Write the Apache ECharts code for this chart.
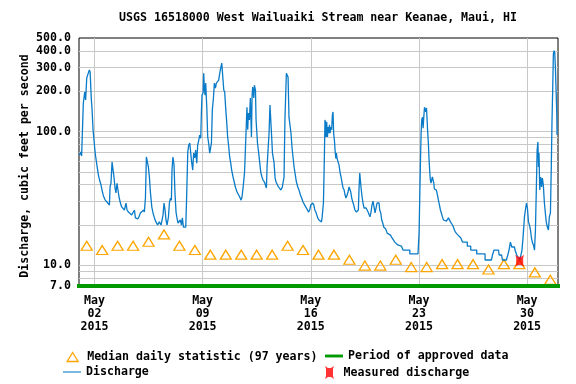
<!DOCTYPE html>
<html><head><meta charset="utf-8">
<script src="https://cdn.jsdelivr.net/npm/echarts@6/dist/echarts.min.js"></script>
<style>html,body{margin:0;padding:0;background:#fff}#c{width:576px;height:384px}</style>
</head><body><div id="c"></div>
<script>
const titleText = 'USGS 16518000 West Wailuaiki Stream near Keanae, Maui, HI';
const yAxisTitle = 'Discharge, cubic feet per second';
const xTickDays = [2, 9, 16, 23, 30];
const xTickMonth = 'May';
const xTickYear = '2015';
const yLabelValues = [7, 10, 100, 200, 300, 400, 500];
const yGridValues = [8, 9, 10, 20, 30, 40, 50, 60, 70, 80, 90, 100, 200, 300, 400];
const xRange = [1, 32];
const yRange = [7, 500];

// Discharge (day of May 2015, fractional) and cfs
const dischargeDay = [1.03,1.11,1.17,1.24,1.28,1.37,1.43,1.50,1.56,1.67,1.72,1.76,1.80,1.84,1.91,2.00,2.06,2.13,2.19,2.26,2.34,2.42,2.49,2.58,2.68,2.81,2.92,2.97,3.01,3.07,3.14,3.20,3.27,3.33,3.39,3.46,3.52,3.59,3.68,3.76,3.85,3.94,4.04,4.11,4.20,4.30,4.41,4.50,4.59,4.65,4.80,4.88,4.97,5.08,5.19,5.23,5.30,5.36,5.43,5.49,5.56,5.62,5.71,5.79,5.88,5.98,6.09,6.20,6.31,
6.44,6.50,6.57,6.63,6.70,6.79,6.85,6.92,6.98,7.02,7.08,7.15,7.21,7.28,7.34,7.41,7.47,7.56,7.63,7.69,7.76,7.84,7.91,7.97,8.04,8.10,8.17,8.23,8.29,8.36,8.42,8.49,8.55,8.62,8.68,8.75,8.81,8.88,8.92,8.96,9.03,9.07,9.12,9.16,9.20,9.27,9.33,9.39,9.46,9.50,9.57,9.63,9.70,9.76,9.83,9.89,9.96,10.04,10.11,10.17,10.24,10.30,10.37,10.43,10.50,10.56,10.62,10.69,10.75,10.82,10.88,10.97,11.06,11.14,11.23,11.32,11.40,11.49,11.55,11.61,
11.71,11.74,11.81,11.87,11.92,11.96,12.03,12.09,12.16,12.20,12.24,12.31,12.35,12.42,12.46,12.55,12.63,12.70,12.76,12.84,12.91,13.00,13.08,13.13,13.17,13.26,13.30,13.36,13.43,13.47,13.52,13.58,13.62,13.69,13.75,13.84,13.91,13.99,14.07,14.16,14.23,14.27,14.33,14.38,14.42,14.49,14.53,14.59,14.66,14.72,14.79,14.85,14.92,14.98,15.07,15.16,15.24,15.33,15.41,15.50,15.59,15.67,15.76,15.85,15.93,16.00,16.13,16.20,16.26,16.33,16.39,16.45,16.53,16.62,16.69,16.73,16.77,16.82,16.88,16.92,
16.96,16.99,17.03,17.08,17.12,17.16,17.21,17.25,17.29,17.35,17.40,17.44,17.48,17.53,17.57,17.62,17.66,17.70,17.77,17.83,17.90,17.96,18.03,18.09,18.16,18.22,18.28,18.35,18.41,18.48,18.54,18.59,18.65,18.72,18.78,18.86,18.95,19.02,19.08,19.12,19.17,19.21,19.25,19.32,19.38,19.45,19.51,19.58,19.64,19.71,19.77,19.83,19.90,19.96,20.03,20.09,20.16,20.22,20.29,20.35,20.42,20.46,20.53,20.59,20.66,20.72,20.78,20.85,20.94,21.05,21.16,21.26,21.37,21.44,21.56,21.63,21.87,21.97,21.97,22.41,22.41,22.94,
23.01,23.05,23.10,23.14,23.18,23.23,23.27,23.31,23.36,23.40,23.44,23.49,23.53,23.57,23.61,23.65,23.70,23.74,23.78,23.83,23.87,23.91,23.96,24.00,24.07,24.13,24.20,24.26,24.33,24.39,24.45,24.52,24.59,24.65,24.71,24.78,24.84,24.91,24.97,25.04,25.10,25.17,25.23,25.30,25.36,25.45,25.53,25.60,25.71,25.82,26.13,26.13,26.35,26.35,26.74,26.74,27.28,27.28,27.69,27.76,27.86,28.15,28.19,28.35,28.40,28.66,28.75,28.83,28.92,29.01,29.18,29.22,29.33,29.53,29.61,29.67,29.74,29.83,29.89,29.96,30.02,30.09,30.15,30.22,30.28,30.35,30.41,30.48,30.54,30.61,30.65,30.70,30.74,30.77,30.82,30.88,30.94,30.99,31.05,31.12,31.18,31.24,31.31,31.38,31.44,31.51,31.57,31.61,31.66,31.70,31.74,31.79,31.83,31.87,31.92,31.94];
const dischargeCfs = [66.7,70.3,65.6,63.4,163,197,172,251,264,288,278,219,172,150,103,79,67,59,53,47,43,40,36.5,33,31,29.7,29.2,28.2,38.5,41.2,59,58,45,38,34.7,41,41,32.4,29.2,27.3,26.8,25.9,29.2,25.9,25,24.6,23.8,23,25.9,22.6,22.2,23,24.6,23.8,25.9,25,31.8,64.5,63.4,54.3,45,35.3,27.3,24.6,22.6,21.1,20,21.1,20,
23.8,29.2,25.9,21.8,20,23,29.2,31.8,30.7,51.5,64.5,56.2,34.7,25,22.6,20.7,20,21.8,20,22.6,19.3,19,19.3,33.5,70.3,79,82,69,59,51.5,69,63.4,72.7,58,79,86,94,89,137,187,194,273,204,187,230,152,91,82,69,67,82,145,178,230,211,230,230,242,273,298,325,331,204,197,145,118,91,77,64.5,58,51.5,45.7,41.2,37.8,35.3,34.7,32.4,30.7,32.4,37.2,
48.9,59,99,152,103,137,122,178,91,181,215,178,222,204,122,82,69,58,49.8,45.7,43.4,41.9,41.2,37.8,54.3,54.3,97,158,163,91,69,70,59,45,41.9,41.9,38.5,37.8,36.5,38.5,39.8,45.7,126,128,273,278,255,128,126,97,75,64.5,54.3,48.9,41.9,38.5,36.5,33.5,31.8,29.7,29.2,27.3,26.3,25,25.9,28.2,29.2,28.2,25.9,25,23.8,22.6,21.8,21.1,21.1,22.6,23,29.2,64.5,122,
115.7,91,118,91,108,97,112,97,108,103,133,140,97,86,73,63,69,63,61,56,49,45.7,41.2,37.8,36.5,33.5,31.8,33.5,35.3,38.5,38.5,35.3,31.8,29.7,28.2,25.9,25,24.6,25.9,36.5,48.9,43.4,38.5,32.4,29.2,26.8,25.9,26.8,25.9,25,25,23,25,28.2,30.2,29.7,24.6,25,29.2,29.7,29.2,25.9,24.6,21.8,20.7,19.3,18.7,18.7,17.4,17.4,16.8,16,16,14.9,14.7,14.2,13.9,13.9,13.0,13.0,12.15,12.15,
17.7,30.7,61,97,122,128,106,126,152,152,140,150,122,97,82,63.4,49.8,43.4,41.2,41.9,45.7,44.9,41.2,37.2,37.8,36.5,33.5,30.7,28.2,25.9,24.6,23,21.8,21.1,21.8,21.4,21.8,22.6,22.2,21.1,20.7,20,19.3,18.35,17.7,17.4,16.8,16.3,16,14.9,14.9,13.9,13.9,13.0,13.0,12.15,12.15,10.95,10.95,11.94,13.0,13.0,11.94,11.94,10.95,10.95,11.94,13.0,14.9,13.7,13.7,13.0,11.94,10.95,10.95,13.0,16.3,23,25.9,29.2,26.8,21.1,20,18.35,16,14.7,14.2,13.0,18.35,43.4,72.7,83.4,54.3,69,36.5,45.7,38.5,44.9,39.8,29.2,24.6,21.1,19.3,18.35,23,24.6,58,116,215,375,402,388,303,215,137,94];

// Median daily statistic, one per day (May 1 .. May 31), plotted at noon
const medianCfs = [14,13,14,14,15,17,14,13,12,12,12,12,12,14,13,12,12,11,9.95,9.95,11,9.7,9.7,10.2,10.2,10.2,9.3,10.2,10.2,8.85,7.8];
const measuredDay = [29.52];
const measuredCfs = [10.8];
const approvedDays = [1, 32];

const L = Math.log10;
const font = { fontFamily: 'DejaVu Sans Mono', fontWeight: 'bold', fontSize: 11.6, color: '#000' };
const measuredIcon = 'path://M0,0 L3,2 L6,2 L9,0 L8,3 L8,10 L9,13 L6,11 L3,11 L0,13 L1,10 L1,3 Z';
const names = ['Median daily statistic (97 years)', 'Period of approved data', 'Discharge', 'Measured discharge'];
const blue = '#0a7bc8', green = '#009900', orange = '#ffa500', red = '#ff0000';

function oneLegend(left, top, item, w, h, textPad) {
  return { left: left, top: top, orient: 'vertical', itemWidth: w, itemHeight: h, itemGap: 0,
    padding: 0, textStyle: Object.assign({ padding: [0, 0, 0, textPad || 0] }, font), selectedMode: false, data: [item] };
}

const chart = echarts.init(document.getElementById('c'), null, { renderer: 'canvas' });
chart.setOption({
  animation: false,
  backgroundColor: '#fff',
  grid: { left: 79, top: 38, width: 479, height: 248, show: true, borderColor: '#000', borderWidth: 1, backgroundColor: '#fff' },
  graphic: [
    { type: 'text', x: 318, y: 18, style: { text: titleText, textAlign: 'center', textVerticalAlign: 'middle', fill: '#000', font: 'bold 11.6px "DejaVu Sans Mono"' } },
    { type: 'text', x: 25, y: 166, rotation: Math.PI / 2, style: { text: yAxisTitle, textAlign: 'center', textVerticalAlign: 'middle', fill: '#000', font: 'bold 11.6px "DejaVu Sans Mono"' } }
  ],
  xAxis: {
    type: 'value', min: xRange[0], max: xRange[1],
    axisLine: { show: false },
    axisTick: { show: false, customValues: xTickDays },
    splitLine: { show: true, lineStyle: { color: '#c8c8c8', width: 1 } },
    axisLabel: Object.assign({
      customValues: xTickDays, margin: 9, lineHeight: 12.6,
      formatter: v => xTickMonth + '\n' + String(Math.round(v)).padStart(2, '0') + '\n' + xTickYear
    }, font)
  },
  yAxis: {
    type: 'value', min: L(yRange[0]), max: L(yRange[1]),
    axisLine: { show: false },
    axisTick: { show: false, customValues: yGridValues.map(L) },
    splitLine: { show: true, lineStyle: { color: '#c8c8c8', width: 1 } },
    axisLabel: Object.assign({
      customValues: yLabelValues.map(L), margin: 8,
      formatter: v => Math.pow(10, v).toFixed(1)
    }, font)
  },
  legend: [
    oneLegend(66.5, 351, { name: names[0], icon: 'triangle', itemStyle: { color: 'rgba(0,0,0,0)', borderColor: orange, borderWidth: 1.3 } }, 11, 9, 4),
    oneLegend(63, 366, { name: names[2], icon: 'path://M0,0 L20,0 L20,1.2 L0,1.2 Z', itemStyle: { color: blue, borderWidth: 0 } }, 18, 9),
    oneLegend(325, 350, { name: names[1], icon: 'path://M0,0 L20,0 L20,3.2 L0,3.2 Z', itemStyle: { color: green, borderWidth: 0 } }, 18, 9),
    oneLegend(325, 366, { name: names[3], icon: measuredIcon, itemStyle: { color: red, borderWidth: 0 } }, 18, 13)
  ],
  series: [
    { name: names[1], type: 'line', clip: false, symbol: 'none', z: 5,
      lineStyle: { color: green, width: 4, cap: 'square' }, itemStyle: { color: green },
      data: approvedDays.map(d => [d, L(yRange[0])]) },
    { name: names[0], type: 'scatter', symbol: 'triangle', symbolSize: [11, 9], z: 3,
      itemStyle: { color: 'rgba(0,0,0,0)', borderColor: orange, borderWidth: 1.3, opacity: 1 },
      data: medianCfs.map((v, i) => [i + 1.5, L(v)]) },
    { name: names[2], type: 'line', symbol: 'none', z: 4,
      lineStyle: { color: blue, width: 1.3 }, itemStyle: { color: blue },
      data: dischargeDay.map((d, i) => [d, L(dischargeCfs[i])]) },
    { name: names[3], type: 'scatter', symbol: measuredIcon, symbolSize: [9, 12], z: 6,
      itemStyle: { color: red },
      data: measuredDay.map((d, i) => [d, L(measuredCfs[i])]) }
  ]
});
</script></body></html>
